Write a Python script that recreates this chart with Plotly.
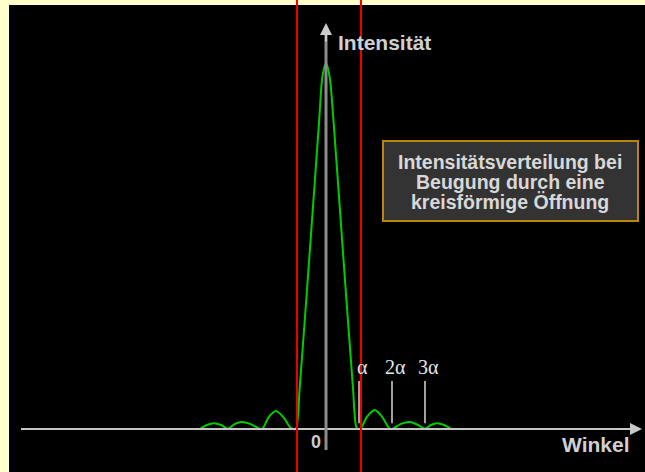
import plotly.graph_objects as go

# Intensity curve (angle in units of alpha, relative intensity)
angle = [-3.82, -3.61, -3.39, -3.18, -2.97, -2.76, -2.55, -2.30, -2.06, -1.94,
         -1.73, -1.52, -1.30, -1.09, -1.00, -0.91, -0.80, -0.50, -0.21, -0.11,
         0.00, 0.11, 0.23, 0.52, 0.82, 0.91, 0.97, 1.06, 1.24, 1.48,
         1.70, 1.91, 2.00, 2.27, 2.55, 2.79, 3.00, 3.18, 3.36, 3.58, 3.79]
intensity = [0.000, 0.011, 0.016, 0.011, 0.001, 0.014, 0.019, 0.014, 0.003, 0.000,
             0.033, 0.049, 0.033, 0.005, 0.000, 0.001, 0.109, 0.475, 0.839, 0.962,
             1.000, 0.962, 0.839, 0.475, 0.109, 0.008, 0.000, 0.003, 0.033, 0.052,
             0.033, 0.003, 0.000, 0.014, 0.019, 0.011, 0.001, 0.011, 0.016, 0.011, 0.000]

# red marker lines (edges of the central disc)
red_lines = [-0.88, 1.06]

# tick marks on the angle axis
tick_pos = [1, 2, 3]
tick_labels = ["α", "2α", "3α"]

box_lines = ["Intensitätsverteilung bei", "Beugung durch eine", "kreisförmige Öffnung"]

W, H = 645, 472
L, T = 9, 5          # yellow border left / top
PW, PH = W - L, H - T


def px(x):
    return (x - L) / PW


def py(y):
    return 1 - (y - T) / PH


fig = go.Figure()

fig.add_trace(go.Scatter(
    x=angle, y=intensity, mode='lines',
    line=dict(color='#00cc00', width=2, shape='spline', smoothing=0.8),
    hoverinfo='skip'
))

# tick marks
tx, ty = [], []
for p in tick_pos:
    tx += [p, p, None]
    ty += [0.016, 0.131, None]
fig.add_trace(go.Scatter(x=tx, y=ty, mode='lines',
                         line=dict(color='#d8d8d8', width=1.5), hoverinfo='skip'))

shapes = []
# axes lines
shapes.append(dict(type='line', xref='paper', yref='y', x0=px(21), x1=px(630), y0=0, y1=0,
                   line=dict(color='#c4c4c4', width=2), layer='above'))
shapes.append(dict(type='line', xref='x', yref='paper', x0=0, x1=0, y0=py(450), y1=py(35),
                   line=dict(color='#8c8c8c', width=3), layer='above'))
# red lines
for r in red_lines:
    shapes.append(dict(type='line', xref='x', yref='paper', x0=r, x1=r, y0=-0.01, y1=1 + T / PH + 0.01,
                       line=dict(color='#ee0000', width=2), layer='above'))
# info box
shapes.append(dict(type='rect', xref='paper', yref='paper', x0=px(383), x1=px(638), y0=py(221), y1=py(141),
                   fillcolor='#333333', line=dict(color='#b8860b', width=2), layer='above'))

annotations = [
    # arrowheads
    dict(x=px(642), y=0, xref='paper', yref='y', ax=-24, ay=0,
         text='', showarrow=True, arrowhead=2, arrowsize=1.2, arrowwidth=2, arrowcolor='#c8c8c8'),
    dict(x=0, y=py(23), xref='x', yref='paper', ax=0, ay=20,
         text='', showarrow=True, arrowhead=2, arrowsize=1.2, arrowwidth=2, arrowcolor='#cccccc'),
    dict(x=px(336), y=py(43), xref='paper', yref='paper', text='<b>Intensität</b>', showarrow=False,
         xanchor='left', yanchor='middle', font=dict(family='Liberation Sans', size=21, color='#d0d0d0')),
    dict(x=px(632), y=py(444), xref='paper', yref='paper', text='<b>Winkel</b>', showarrow=False,
         xanchor='right', yanchor='middle', font=dict(family='Liberation Sans', size=21, color='#d0d0d0')),
    dict(x=px(316), y=py(442), xref='paper', yref='paper', text='<b>0</b>', showarrow=False,
         xanchor='center', yanchor='middle', font=dict(family='Liberation Sans', size=18, color='#cccccc')),
]
for p, lab in zip(tick_pos, tick_labels):
    annotations.append(dict(x=p, y=0.169, xref='x', yref='y', text=lab, showarrow=False,
                            xanchor='center', yanchor='middle', xshift=3,
                            font=dict(family='Liberation Serif', size=20, color='#e8e8e8')))
for i, line in enumerate(box_lines):
    annotations.append(dict(x=px(510), y=py(162 + 20 * i), xref='paper', yref='paper',
                            text=f'<b>{line}</b>', showarrow=False, xanchor='center', yanchor='middle',
                            font=dict(family='Liberation Sans', size=19.5, color='#d8d8d8')))

fig.update_layout(
    width=W, height=H,
    margin=dict(l=L, r=0, t=T, b=0),
    paper_bgcolor='#ffffcc', plot_bgcolor='black',
    showlegend=False,
    xaxis=dict(visible=False, range=[-317 / 33, 319 / 33], fixedrange=True),
    yaxis=dict(visible=False, range=[-(472 - 429) / 366, (429 - 5) / 366], fixedrange=True),
    shapes=shapes, annotations=annotations,
)

# the page body has a default 8px margin; remove it so the chart fills the window
fig.write_html("out.html", config={'displayModeBar': False},
               post_script="document.body.style.margin='0';document.body.style.overflow='hidden';")
